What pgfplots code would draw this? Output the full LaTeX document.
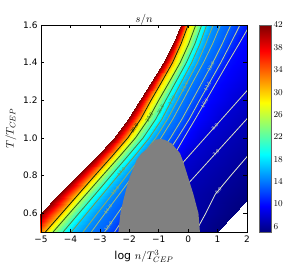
\documentclass[border=0pt]{standalone}
\usepackage{pgfplots}
\pgfplotsset{compat=1.18}
\usepackage{pgfplotstable}
\usepackage{fontspec}
\setmainfont{DejaVu Sans}
\pgfplotstableread{
x T s
-5.62 0.5 42
-4.85 0.5 30
-4.59 0.5 25
-4.25 0.5 20
-3.97 0.5 17
-3.57 0.5 15
-3.29 0.5 14
-2.84 0.5 13
-2.5 0.5 11.5
-2.0 0.5 10
-1.7 0.5 8
-1.49 0.5 7
0.25 0.5 6
0.98 0.5 5
-5.0 0.6 42
-4.29 0.6 30
-4.03 0.6 25
-3.71 0.6 20
-3.44 0.6 17
-3.08 0.6 15
-2.82 0.6 14
-2.39 0.6 13
-2.07 0.6 11.5
-1.63 0.6 10
-1.45 0.6 8
-0.91 0.6 7
0.6 0.6 6
1.58 0.6 5
-4.38 0.7 42
-3.73 0.7 30
-3.47 0.7 25
-3.16 0.7 20
-2.91 0.7 17
-2.58 0.7 15
-2.34 0.7 14
-1.94 0.7 13
-1.64 0.7 11.5
-1.25 0.7 10
-1.14 0.7 8
-0.33 0.7 7
0.92 0.7 6
2.18 0.7 5
-3.76 0.8 42
-3.17 0.8 30
-2.91 0.8 25
-2.62 0.8 20
-2.38 0.8 17
-2.09 0.8 15
-1.87 0.8 14
-1.5 0.8 13
-1.21 0.8 11.5
-0.88 0.8 10
-0.57 0.8 8
0.25 0.8 7
1.45 0.8 6
2.78 0.8 5
-3.13 0.9 42
-2.6 0.9 30
-2.34 0.9 25
-2.07 0.9 20
-1.84 0.9 17
-1.59 0.9 15
-1.39 0.9 14
-1.04 0.9 13
-0.78 0.9 11.5
-0.51 0.9 10
0.0 0.9 8
0.83 0.9 7
2.0 0.9 6
3.38 0.9 5
-2.52 1.0 42
-2.05 1.0 30
-1.79 1.0 25
-1.53 1.0 20
-1.32 1.0 17
-1.1 1.0 15
-0.92 1.0 14
-0.6 1.0 13
-0.36 1.0 11.5
-0.14 1.0 10
0.57 1.0 8
1.41 1.0 7
2.55 1.0 6
3.98 1.0 5
-2.03 1.1 42
-1.61 1.1 30
-1.35 1.1 25
-1.1 1.1 20
-0.89 1.1 17
-0.7 1.1 15
-0.52 1.1 14
-0.21 1.1 13
0.04 1.1 11.5
0.24 1.1 10
1.14 1.1 8
1.99 1.1 7
3.1 1.1 6
4.58 1.1 5
-1.64 1.2 42
-1.26 1.2 30
-1.0 1.2 25
-0.76 1.2 20
-0.56 1.2 17
-0.36 1.2 15
-0.17 1.2 14
0.14 1.2 13
0.39 1.2 11.5
0.61 1.2 10
1.71 1.2 8
2.57 1.2 7
3.65 1.2 6
5.18 1.2 5
-1.24 1.3 42
-0.89 1.3 30
-0.63 1.3 25
-0.41 1.3 20
-0.22 1.3 17
-0.02 1.3 15
0.17 1.3 14
0.49 1.3 13
0.75 1.3 11.5
0.98 1.3 10
2.28 1.3 8
3.15 1.3 7
4.2 1.3 6
5.78 1.3 5
-0.84 1.4 42
-0.53 1.4 30
-0.27 1.4 25
-0.06 1.4 20
0.12 1.4 17
0.32 1.4 15
0.52 1.4 14
0.84 1.4 13
1.11 1.4 11.5
1.35 1.4 10
2.85 1.4 8
3.73 1.4 7
4.75 1.4 6
6.38 1.4 5
-0.52 1.5 42
-0.24 1.5 30
0.02 1.5 25
0.23 1.5 20
0.4 1.5 17
0.6 1.5 15
0.83 1.5 14
1.16 1.5 13
1.44 1.5 11.5
1.73 1.5 10
3.42 1.5 8
4.31 1.5 7
5.3 1.5 6
6.98 1.5 5
-0.25 1.6 42
0.0 1.6 30
0.26 1.6 25
0.46 1.6 20
0.63 1.6 17
0.85 1.6 15
1.1 1.6 14
1.45 1.6 13
1.76 1.6 11.5
2.1 1.6 10
3.99 1.6 8
4.89 1.6 7
5.85 1.6 6
7.58 1.6 5
}\field
\pgfplotstableread{
x T
-2.37 0.5
-2.3 0.6
-2.2 0.67
-2.1 0.73
-1.98 0.794
-1.85 0.84
-1.75 0.883
-1.6 0.915
-1.41 0.94
-1.25 0.97
-1.1 0.99
-0.96 0.995
-0.8 0.99
-0.56 0.97
-0.4 0.94
-0.28 0.92
-0.16 0.87
0.0 0.79
0.1 0.74
0.18 0.70
0.28 0.64
0.35 0.60
0.40 0.5
}\gray
\definecolor{c30}{rgb}{0.05,0.15,0.05}
\definecolor{c25}{rgb}{0.15,0.35,0.12}
\definecolor{c20}{rgb}{0.3,0.5,0.2}
\definecolor{c17}{rgb}{0.48,0.6,0.27}
\definecolor{c15}{rgb}{0.58,0.68,0.36}
\definecolor{c14}{rgb}{0.65,0.74,0.44}
\definecolor{c13}{rgb}{0.7,0.78,0.5}
\definecolor{c115}{rgb}{0.76,0.82,0.57}
\definecolor{c10}{rgb}{0.8,0.85,0.64}
\definecolor{c8}{rgb}{0.85,0.88,0.72}
\definecolor{c7}{rgb}{0.88,0.9,0.78}
\definecolor{c6}{rgb}{0.9,0.92,0.82}
\definecolor{grayreg}{rgb}{0.5,0.5,0.5}
\newcommand{\lev}[3]{\addplot[#3, line width=0.8bp, restrict expr to domain={\thisrow{s}}{#1:#2}, unbounded coords=discard] table[x=x,y=T] {\field};}
\begin{document}
\begin{tikzpicture}
\begin{axis}[
  width=206bp, height=207bp, scale only axis,
  xmin=-5, xmax=2, ymin=0.5, ymax=1.6,
  axis on top,
  colormap/jet, point meta min=5, point meta max=42,
  xtick={-5,-4,...,2},
  xticklabels={−5,−4,−3,−2,−1,0,1,2},
  ytick={0.6,0.8,1.0,1.2,1.4,1.6},
  yticklabels={0.6,0.8,1.0,1.2,1.4,1.6},
  tick align=inside, major tick length=3.5bp,
  tick style={black, line width=0.5bp},
  xtick pos=both, ytick pos=both,
  tick label style={font=\fontsize{9}{10}\selectfont},
  axis line style={line width=0.6bp, black},
  xlabel={$\log\, n/T_{CEP}^{3}$},
  ylabel={$T/T_{CEP}$},
  xlabel style={font=\fontsize{11}{12}\selectfont, yshift=-1bp},
  ylabel style={font=\fontsize{11}{12}\selectfont},
  every axis title shift=0pt,
  title={$s/n$},
  title style={font=\fontsize{11}{12}\selectfont, at={(0.5,1)}, anchor=base, inner sep=0pt, yshift=2.5bp},
  colorbar,
  colorbar style={
    at={(1.0583,1)}, anchor=north west,
    width=12bp, height=207bp,
    ytick={6,10,...,42},
    yticklabel style={font=\fontsize{9.5}{10}\selectfont, xshift=-1bp},
    major tick length=0bp,
    axis line style={line width=0.5bp, black!60},
  },
]
\addplot[surf, shader=interp, mesh/cols=14, point meta=\thisrow{s}] table[x=x,y=T] {\field};
\lev{29.9}{30.1}{c30}
\lev{24.9}{25.1}{c25}
\lev{19.9}{20.1}{c20}
\lev{16.9}{17.1}{c17}
\lev{14.9}{15.1}{c15}
\lev{13.9}{14.1}{c14}
\lev{12.9}{13.1}{c13}
\lev{11.4}{11.6}{c115}
\lev{9.9}{10.1}{c10}
\lev{7.9}{8.1}{c8}
\lev{6.9}{7.1}{c7}
\lev{5.9}{6.1}{c6}
\addplot[fill=grayreg, draw=none] table[x=x,y=T] {\gray} \closedcycle;
\begin{scope}[every node/.style={font=\fontsize{4.5}{5}\selectfont, inner sep=0pt}]
\node[text=c30, rotate=55] at (axis cs:-1.83,1.05) {30.0};
\node[text=c25, rotate=60] at (axis cs:-1.32,1.11) {25.0};
\node[text=c20, rotate=62] at (axis cs:-0.93,1.15) {20.0};
\node[text=c17, rotate=62] at (axis cs:-0.56,1.2) {17.0};
\node[text=c15, rotate=62] at (axis cs:-0.12,1.27) {15.0};
\node[text=c13, rotate=61] at (axis cs:0.77,1.38) {13.0};
\node[text=c115, rotate=61] at (axis cs:0.66,1.275) {11.5};
\node[text=c10, rotate=60] at (axis cs:0.56,1.185) {10.0};
\node[text=c8, rotate=48] at (axis cs:0.91,1.06) {8.0};
\node[text=c7, rotate=48] at (axis cs:0.95,0.92) {7.0};
\node[text=c6, rotate=50] at (axis cs:1.03,0.72) {6.0};
\node[text=c17, rotate=50] at (axis cs:-2.27,0.82) {17.0};
\node[text=c15, rotate=50] at (axis cs:-2.48,0.72) {15.0};
\node[text=c14, rotate=50] at (axis cs:-2.72,0.62) {14.0};
\node[text=c13, rotate=50] at (axis cs:-2.71,0.53) {13.0};
\end{scope}
\coordinate (ll) at (rel axis cs:0,0);
\end{axis}
\path (ll) ++(-41bp,-27bp) rectangle ++(296bp,259bp);
\end{tikzpicture}
\end{document}
